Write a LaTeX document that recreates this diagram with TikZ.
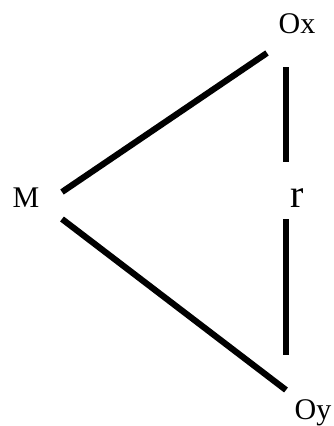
\documentclass[tikz,border=0pt]{standalone}
\usepackage{fontspec}
\setmainfont{Liberation Serif}
\begin{document}
\begin{tikzpicture}[x=1pt,y=-1pt,
  lbl/.style={inner sep=0pt, anchor=base, font=\fontsize{30}{34}\selectfont},
  bigl/.style={inner sep=0pt, anchor=base, font=\fontsize{40}{44}\selectfont},
  edge/.style={line width=6.2pt, line cap=butt}]
\useasboundingbox (0,0) rectangle (334,426);
\node[lbl] (Ox) at (297,33) {Ox};
\node[lbl] (M) at (26,207) {M};
\node[bigl] (r) at (297,207) {r};
\node[lbl] (Oy) at (313,419) {Oy};
\coordinate (mA) at (62,192);
\coordinate (oxA) at (267,53);
\coordinate (mB) at (62,219);
\coordinate (oyA) at (286,390);
\coordinate (oxV) at (286,67);
\coordinate (rT) at (286,162);
\coordinate (rB) at (286,219);
\coordinate (oyV) at (286,355);
\draw[edge] (mA) -- (oxA);
\draw[edge] (mB) -- (oyA);
\draw[edge] (oxV) -- (rT);
\draw[edge] (rB) -- (oyV);
\end{tikzpicture}
\end{document}
